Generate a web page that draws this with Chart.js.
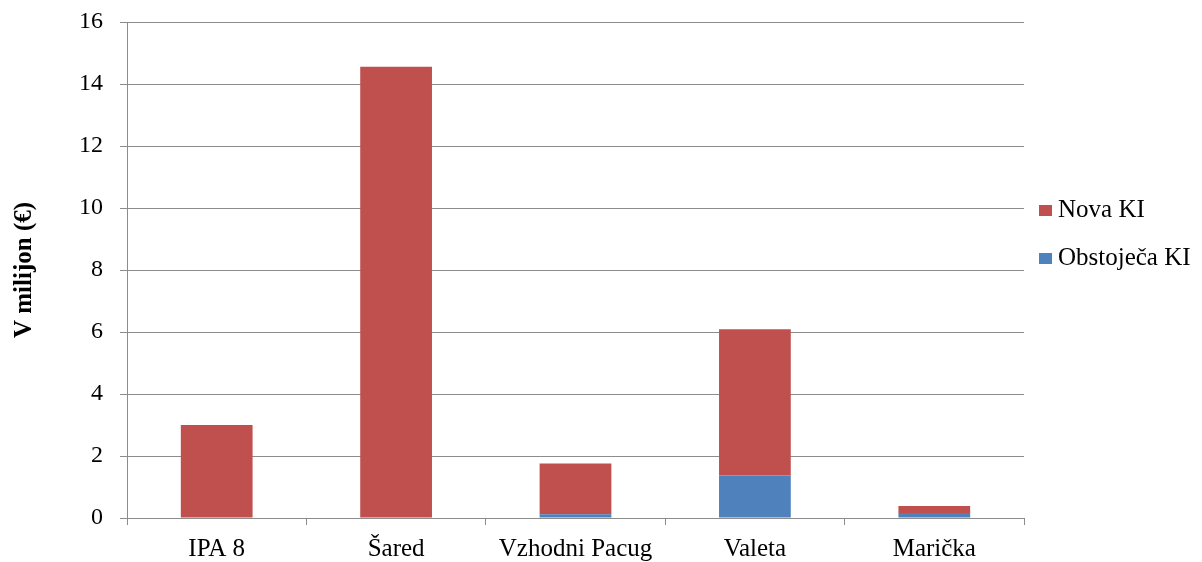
<!DOCTYPE html>
<html>
<head>
<meta charset="utf-8">
<script src="https://cdn.jsdelivr.net/npm/chart.js@4"></script>
<style>
  html, body { margin: 0; padding: 0; background: #fff; }
  #wrap { position: relative; width: 1202px; height: 562px; }
  .lg { position: absolute; font-family: 'Liberation Serif', serif; font-size: 25px; line-height: 25px; color: #000; white-space: nowrap; }
  .sw { position: absolute; width: 13px; height: 11px; }
</style>
</head>
<body>
<div id="wrap">
  <canvas id="c" width="1202" height="562"></canvas>
  <div id="legend"></div>
</div>
<script>
const categories = ['IPA 8', 'Šared', 'Vzhodni Pacug', 'Valeta', 'Marička'];
const obstojecaKI = [0, 0, 0.12, 1.37, 0.16];
const novaKI = [3.0, 14.56, 1.64, 4.72, 0.23];
const yTicks = [0, 2, 4, 6, 8, 10, 12, 14, 16];

const RED = '#C0504D';
const BLUE = '#4F81BD';
const GRID = '#8C8C8C';
const FONT = 'Liberation Serif';

const ctx = document.getElementById('c').getContext('2d');
new Chart(ctx, {
  type: 'bar',
  data: {
    labels: categories,
    datasets: [
      { label: 'Obstoječa KI', data: obstojecaKI, backgroundColor: BLUE, categoryPercentage: 1, barPercentage: 0.4 },
      { label: 'Nova KI', data: novaKI, backgroundColor: RED, categoryPercentage: 1, barPercentage: 0.4 }
    ]
  },
  options: {
    responsive: false,
    animation: false,
    layout: { padding: { top: 22, right: 178, left: 0, bottom: 0 } },
    plugins: { legend: { display: false }, tooltip: { enabled: false } },
    scales: {
      x: {
        stacked: true,
        offset: true,
        grid: { offset: true, drawOnChartArea: false, color: GRID, tickLength: 7, lineWidth: 1 },
        border: { color: GRID, width: 1 },
        ticks: { color: '#000', font: { family: FONT, size: 25 }, padding: 9, maxRotation: 0 },
        afterFit: s => { s.height = 44; s.paddingLeft = 0; s.paddingRight = 0; }
      },
      y: {
        stacked: true,
        min: 0,
        max: 16,
        afterBuildTicks: s => { s.ticks = yTicks.map(v => ({ value: v })); },
        grid: { color: GRID, tickLength: 7, lineWidth: 1 },
        border: { color: GRID, width: 1 },
        ticks: { color: '#000', font: { family: FONT, size: 24 }, padding: 17 },
        title: { display: true, text: 'V milijon (€)', color: '#000', font: { family: FONT, size: 25, weight: 'bold' }, padding: { top: 10, bottom: 0 } },
        afterFit: s => { s.width = 127; s.paddingTop = 0; s.paddingBottom = 0; }
      }
    }
  }
});

// legend, top series listed first
const legend = document.getElementById('legend');
[['Nova KI', RED, 196], ['Obstoječa KI', BLUE, 244]].forEach(([name, color, top]) => {
  const sw = document.createElement('div');
  sw.className = 'sw';
  sw.style.background = color;
  sw.style.left = '1039px';
  sw.style.top = (top + 9) + 'px';
  const t = document.createElement('div');
  t.className = 'lg';
  t.style.left = '1058px';
  t.style.top = top + 'px';
  t.textContent = name;
  legend.appendChild(sw);
  legend.appendChild(t);
});
</script>
</body>
</html>
